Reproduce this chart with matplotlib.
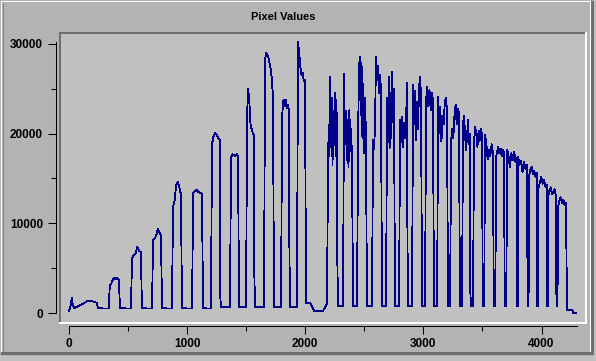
import matplotlib
matplotlib.use('Agg')
import matplotlib.pyplot as plt
import numpy as np
from matplotlib.patches import Rectangle
from matplotlib.ticker import MultipleLocator

W, H = 596, 361

# start of trace (column, pixel value)
lead_x = [0, 10, 25, 32, 45]
lead_y = [200, 600, 1700, 900, 520]

# each pulse: rising column, falling column, plateau readings
pulse_start = [161, 345, 533, 711, 880, 1050, 1210, 1371, 1507, 1659, 1803, 1938,
               2192, 2328, 2446, 2573, 2692, 2802, 2912, 3022, 3124, 3234, 3335, 3428,
               3521, 3615, 3708, 3801, 3894, 3973, 4055, 4139]
pulse_end = [237, 423, 609, 779, 948, 1126, 1278, 1431, 1566, 1727, 1862, 1998,
             2269, 2396, 2514, 2641, 2751, 2861, 2980, 3081, 3200, 3301, 3394, 3496,
             3589, 3682, 3792, 3877, 3960, 4046, 4122, 4207]
pulse_levels = [
    [1350, 1380, 1300, 1200, 1150],
    [3100, 3300, 3700, 3900, 3800, 3900, 3600],
    [6100, 6500, 6600, 7400, 6900, 6800],
    [8100, 8300, 8600, 9400, 9000, 8600],
    [11800, 12500, 14300, 14600, 14000, 13200],
    [13400, 13600, 13700, 13500, 13400, 13300],
    [18800, 19700, 20100, 19800, 19500, 19300],
    [17300, 17700, 17600, 17500, 17700, 17400],
    [22000, 25000, 23500, 21000, 20500, 20000, 19800],
    [28200, 29000, 28800, 28500, 27800, 27200, 26000, 24000],
    [21500, 23500, 23800, 23000, 23700, 22800, 23200, 22600],
    [30200, 29000, 27500, 26500, 26800, 25800, 26000],
    [16000, 21000, 17500, 26300, 18500, 24000, 16500, 22500, 19000, 24500, 17500, 23700, 20000],
    [26700, 20000, 22500, 17000, 21500, 16200, 22600, 18000, 20500, 16500],
    [17800, 27000, 28500, 22000, 27900, 19500, 25500, 17800, 24000, 19000],
    [19300, 18300, 20500, 28500, 26000, 27500, 24500, 26500, 25000],
    [24000, 19000, 26300, 18400, 24500, 19500, 26900, 21500, 25000],
    [21500, 19000, 21900, 18500, 21200, 19500, 21000, 25600],
    [25400, 21000, 24800, 19300, 23500, 20500, 25200, 26300, 24000],
    [23500, 25200, 23000, 24900, 22600, 24500, 23800],
    [24100, 20000, 23000, 19100, 22000, 21000, 23500, 24000, 22500],
    [19100, 20500, 19500, 22000, 23200, 21000, 22800, 22200],
    [21000, 22000, 20000, 18200, 19500, 21500, 18800, 20000],
    [19000, 20700, 20000, 18500, 20300, 19200, 20500, 19800],
    [19800, 19000, 17100, 18200, 17500, 18800, 17800],
    [17300, 18000, 18500, 17800, 18300, 17500, 18200, 17900],
    [18200, 17500, 16300, 17800, 17000, 18000, 16800, 17300],
    [17400, 16500, 17000, 15700, 16800, 16000, 16500],
    [15200, 16000, 16300, 15500, 15800, 15100, 15600],
    [13900, 14500, 15200, 14400, 14800, 14000, 14300],
    [12900, 13600, 14000, 13200, 13500, 13800, 13000],
    [11800, 12500, 12900, 12200, 12600, 12000, 12300],
]
# short step on the falling edge (0 = none)
drop_step = [0, 0, 0, 0, 0, 0, 2000, 0, 5100, 0, 10000, 0,
             6200, 0, 0, 0, 0, 12600, 0, 17400, 0, 0, 2800, 0,
             0, 0, 11700, 13400, 0, 0, 0, 0]
# baseline readings between pulses
gap_levels = [[520, 500]] * 6 + [[700, 680]] * 5 + [[1100, 1100, 200, 200, 200, 1000]] + [[780, 760]] * 19

# end of trace
tail_x = [4215, 4262, 4268, 4290]
tail_y = [330, 330, 0, 0]

# build the polyline
xs, ys = list(lead_x), list(lead_y)
for i in range(len(pulse_start)):
    s, e, lev = pulse_start[i], pulse_end[i], pulse_levels[i]
    xs += list(np.linspace(s, e, len(lev)))
    ys += lev
    if drop_step[i]:
        xs.append(e + 2)
        ys.append(drop_step[i])
    if i < len(gap_levels):
        nxt = pulse_start[i + 1]
        r = min(8, (nxt - e) / 4)
        g = gap_levels[i]
        xs += list(np.linspace(e + r, nxt - r, len(g)))
        ys += g
xs += tail_x
ys += tail_y

plt.rcParams['font.family'] = ['Liberation Sans', 'DejaVu Sans']
plt.rcParams['font.weight'] = 'bold'

fig = plt.figure(figsize=(W / 100, H / 100), dpi=100, facecolor='#c0c0c0')


def px_rect(x, y, w, h, color, z=-2):
    fig.add_artist(Rectangle((x / W, 1 - (y + h) / H), w / W, h / H,
                             transform=fig.transFigure, facecolor=color,
                             edgecolor='none', antialiased=False, zorder=z))


# window frame
px_rect(0, 0, 594, 356, '#b3b3b3', -5)
px_rect(1, 1, 590, 1, '#ffffff', -4)
px_rect(1, 1, 1, 353, '#ffffff', -4)
px_rect(3, 3, 1, 349, '#808080', -4)
px_rect(590, 1, 1, 352, '#ffffff', -4)
px_rect(591, 1, 3, 354, '#6e6e6e', -4)
px_rect(1, 352, 593, 3, '#6e6e6e', -4)

# sunken plotting area
px_rect(59, 32, 528, 292, '#c0c0c0', -3)
px_rect(59, 32, 528, 2, '#6e6e6e', -2)
px_rect(59, 32, 2, 292, '#6e6e6e', -2)
px_rect(59, 322, 528, 2, '#ffffff', -2)
px_rect(585, 32, 2, 292, '#ffffff', -2)

ax = fig.add_axes([69 / W, 1 - 313 / H, 508 / W, 271 / H])
ax.patch.set_visible(False)
ax.plot(xs, ys, color='#000088', lw=0.6, antialiased=False, clip_on=False)
ax.set_xlim(0, 4300)
ax.set_ylim(0, 30200)

for side in ['top', 'right']:
    ax.spines[side].set_visible(False)
ax.spines['left'].set_position(('outward', 13 * 0.72))
ax.spines['bottom'].set_position(('outward', 13 * 0.72))
for side in ['left', 'bottom']:
    ax.spines[side].set_linewidth(0.75)

ax.xaxis.set_major_locator(MultipleLocator(1000))
ax.xaxis.set_minor_locator(MultipleLocator(500))
ax.yaxis.set_major_locator(MultipleLocator(10000))
ax.yaxis.set_minor_locator(MultipleLocator(5000))
ax.tick_params(which='major', length=5.8, width=0.75, labelsize=8.5)
ax.tick_params(which='minor', length=3.6, width=0.75)
ax.tick_params(axis='y', which='both', pad=3.6)
ax.tick_params(axis='x', which='both', pad=2.8)

fig.text(283 / W, 1 - 16.5 / H, 'Pixel Values', ha='center', va='center',
         fontsize=8, fontweight='bold')

fig.savefig('out.png', dpi=100, facecolor=fig.get_facecolor())
